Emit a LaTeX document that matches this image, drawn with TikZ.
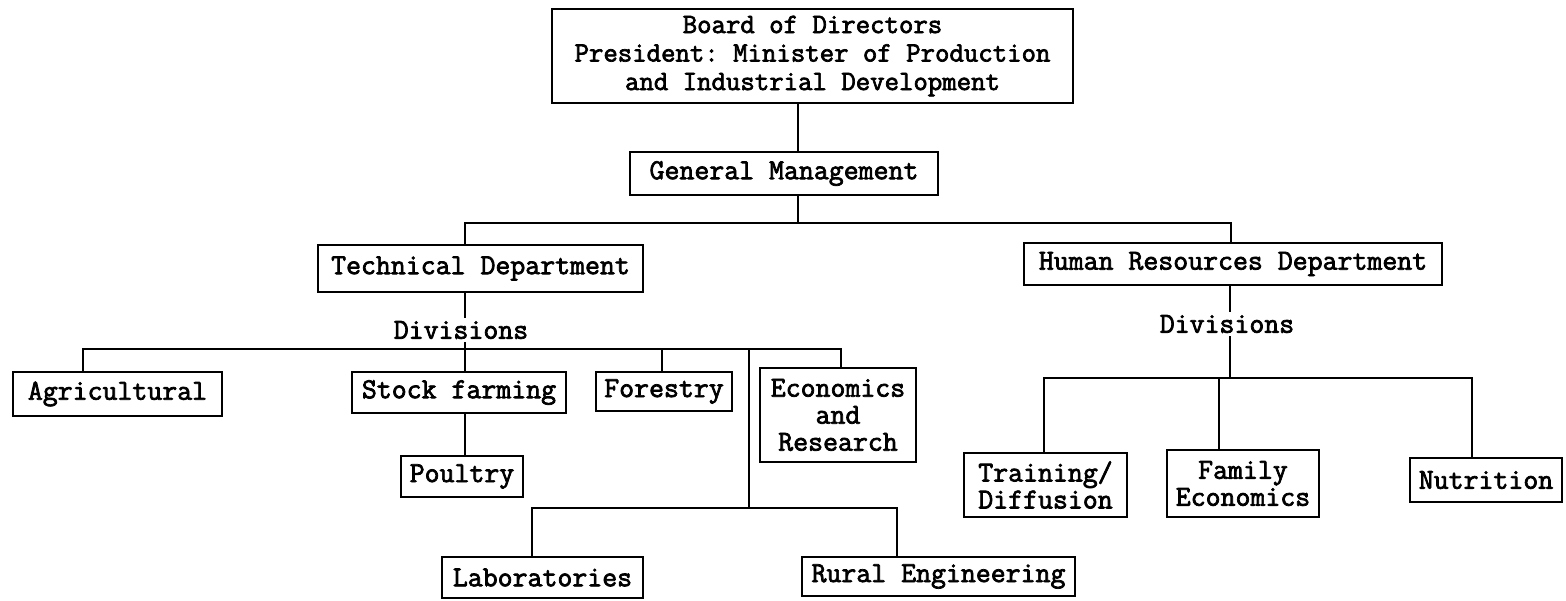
\documentclass[tikz,border=0pt]{standalone}
\usepackage{fontspec}
\setmonofont{Latin Modern Mono}[AutoFakeBold=2.5]
\usetikzlibrary{positioning}
\tikzset{%
	unit/.style     = {draw, rectangle, line width=2.8pt, align=center, inner sep=0pt,
	                   font=\ttfamily\bfseries\fontsize{29}{27}\selectfont}, % Office box
	tight/.style    = {font=\ttfamily\bfseries\fontsize{28}{28.5}\selectfont}, % Three lines
	divtext/.style  = {inner sep=3pt, font=\ttfamily\bfseries\fontsize{29}{27}\selectfont}, % Plain text
	wire/.style     = {line width=2.8pt}, % Connector
}
\begin{document}
\begin{tikzpicture}[x=1pt, y=-1pt]
	\useasboundingbox (0,0) rectangle (1566,600);
	\node[unit, tight, minimum width=521, minimum height=94] (board) at (812.5,56)
		{Board of Directors\\President: Minister of Production\\and Industrial Development};
	\node[unit, minimum width=308, minimum height=43] (gm) at (784,173.5) {General Management};
	\node[unit, minimum width=325, minimum height=47] (td) at (480.5,268.5) {Technical Department};
	\node[unit, minimum width=418, minimum height=42] (hr) at (1233,264) {Human Resources Department};
	\node[divtext] (tdiv) at (461,330) {Divisions};
	\node[divtext] (hdiv) at (1227,324) {Divisions};
	\node[unit, minimum width=209, minimum height=44] (agri) at (117.5,394) {Agricultural};
	\node[unit, minimum width=214, minimum height=41] (stock) at (459,392.5) {Stock farming};
	\node[unit, minimum width=136, minimum height=39] (forest) at (664,391.5) {Forestry};
	\node[unit, minimum width=156, minimum height=94] (econ) at (838,415) {Economics\\and\\Research};
	\node[unit, minimum width=122, minimum height=41] (poultry) at (462,476.5) {Poultry};
	\node[unit, minimum width=201, minimum height=41] (lab) at (542.5,577.5) {Laboratories};
	\node[unit, minimum width=273, minimum height=39] (rural) at (938.5,576.5) {Rural Engineering};
	\node[unit, minimum width=163, minimum height=64] (train) at (1045.5,485) {Training/\\Diffusion};
	\node[unit, minimum width=152, minimum height=67] (family) at (1243,483.5) {Family\\Economics};
	\node[unit, minimum width=152, minimum height=44] (nutri) at (1486,480) {Nutrition};

	\coordinate (top) at (798,223);
	\coordinate (ltd) at (465,223);
	\coordinate (lhr) at (1231,223);
	\coordinate (dl)  at (83,349);
	\coordinate (dsf) at (465,349);
	\coordinate (dfo) at (662,349);
	\coordinate (dre) at (749,349);
	\coordinate (dec) at (841,349);
	\coordinate (rl)  at (532,508);
	\coordinate (rm)  at (749,508);
	\coordinate (rr)  at (897,508);
	\coordinate (hl)  at (1044,378);
	\coordinate (hm)  at (1230,378);
	\coordinate (hf)  at (1219,378);
	\coordinate (hn)  at (1472,378);

	\draw[wire] (board.south -| top) -- (gm.north -| top);
	\draw[wire] (gm.south -| top) -- (top);
	\draw[wire] (td.north -| ltd) -- (ltd) -- (lhr) -- (hr.north -| lhr);
	\draw[wire] (td.south -| dsf) -- (tdiv.north -| dsf);
	\draw[wire] (tdiv.south -| dsf) -- (dsf);
	\draw[wire] (agri.north -| dl) -- (dl) -- (dec) -- (econ.north -| dec);
	\draw[wire] (dsf) -- (stock.north -| dsf);
	\draw[wire] (dfo) -- (forest.north -| dfo);
	\draw[wire] (dre) -- (rm);
	\draw[wire] (stock.south -| dsf) -- (poultry.north -| dsf);
	\draw[wire] (lab.north -| rl) -- (rl) -- (rr) -- (rural.north -| rr);
	\draw[wire] (hr.south -| hm) -- (hdiv.north -| hm);
	\draw[wire] (hdiv.south -| hm) -- (hm);
	\draw[wire] (train.north -| hl) -- (hl) -- (hn) -- (nutri.north -| hn);
	\draw[wire] (hf) -- (family.north -| hf);
\end{tikzpicture}
\end{document}
